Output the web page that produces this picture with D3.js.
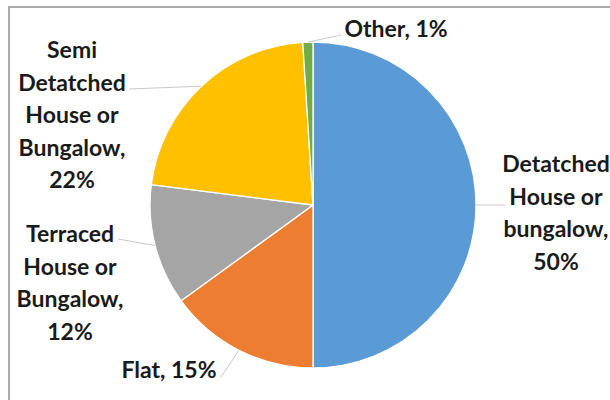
<!DOCTYPE html>
<html>
<head>
<meta charset="utf-8">
<script src="https://cdn.jsdelivr.net/npm/d3@7"></script>
<style>
  html, body { margin: 0; padding: 0; background: #fff; }
  svg { display: block; }
  text { font-family: Lato, "Open Sans", sans-serif; font-weight: 700; fill: #1a1a1a; }
</style>
</head>
<body>
<svg id="chart" width="610" height="400"></svg>
<script>
// ---- data ----
const categories = ["Detatched House or bungalow", "Flat", "Terraced House or Bungalow", "Semi Detatched House or Bungalow", "Other"];
const values = [50, 15, 12, 22, 1];
const colors = ["#5B9BD5", "#ED7D31", "#A5A5A5", "#FFC000", "#70AD47"];
const labelLines = [
  ["Detatched", "House or", "bungalow,", "50%"],
  ["Flat, 15%"],
  ["Terraced", "House or", "Bungalow,", "12%"],
  ["Semi", "Detatched", "House or", "Bungalow,", "22%"],
  ["Other, 1%"]
];

// ---- layout ----
const svg = d3.select("#chart");
const cx = 313, cy = 205, R = 163;
const lineH = 32.5;
// label anchor: centre x and first baseline
const labelPos = [
  {x: 556, y: 172, lead: [505, 205]},
  {x: 169, y: 378, lead: [221, 377]},
  {x: 70,  y: 242, lead: [118, 239]},
  {x: 72,  y: 58,  lead: [129, 89]},
  {x: 396, y: 37,  lead: [341, 35]}
];

// frame
svg.append("line").attr("x1", 9).attr("y1", 7).attr("x2", 612).attr("y2", 7)
  .attr("stroke", "#ababab").attr("stroke-width", 2);
svg.append("line").attr("x1", 9).attr("y1", 6).attr("x2", 9).attr("y2", 402)
  .attr("stroke", "#ababab").attr("stroke-width", 2);

const pie = d3.pie().sort(null).value(d => d)(values);
const arc = d3.arc().innerRadius(0).outerRadius(R);

const g = svg.append("g").attr("transform", `translate(${cx},${cy})`);
g.selectAll("path").data(pie).join("path")
  .attr("d", arc)
  .attr("fill", (d, i) => colors[i])
  .attr("stroke", "#fff")
  .attr("stroke-width", 1.3)
  .attr("stroke-linejoin", "round");

// leader lines
pie.forEach((d, i) => {
  const a = (d.startAngle + d.endAngle) / 2;
  const px = cx + R * Math.sin(a), py = cy - R * Math.cos(a);
  const [lx, ly] = labelPos[i].lead;
  svg.append("line").attr("x1", px).attr("y1", py).attr("x2", lx).attr("y2", ly)
    .attr("stroke", "#c8c8c8").attr("stroke-width", 1);
});

// labels
labelLines.forEach((lines, i) => {
  const t = svg.append("text")
    .attr("text-anchor", "middle")
    .style("font-size", "23px");
  lines.forEach((s, j) => {
    t.append("tspan").attr("x", labelPos[i].x).attr("y", labelPos[i].y + j * lineH).text(s);
  });
});
</script>
</body>
</html>
